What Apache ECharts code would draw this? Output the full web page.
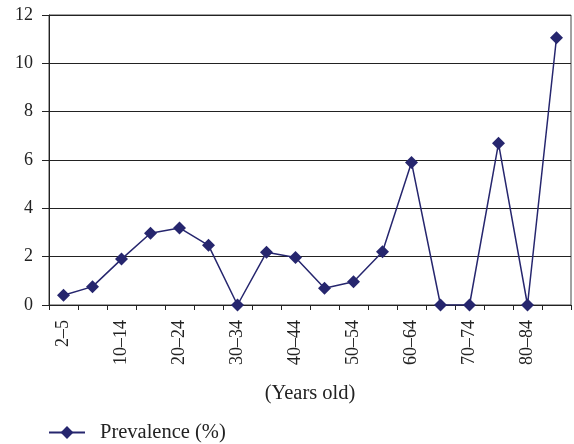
<!DOCTYPE html>
<html>
<head>
<meta charset="utf-8">
<script src="https://cdn.jsdelivr.net/npm/echarts@6/dist/echarts.min.js"></script>
<style>
html,body{margin:0;padding:0;background:#fff;}
#chart{width:574px;height:444px;}
</style>
</head>
<body>
<div id="chart"></div>
<script>
var categories = ['2–5','6–9','10–14','15–19','20–24','25–29','30–34','35–39','40–44','45–49','50–54','55–59','60–64','65–69','70–74','75–79','80–84','≥85'];
var prevalence = [0.4, 0.76, 1.9, 2.97, 3.19, 2.47, 0, 2.18, 1.97, 0.69, 0.96, 2.2, 5.9, 0, 0, 6.69, 0, 11.06];
var yTicks = {min: 0, max: 12, step: 2};
var seriesName = 'Prevalence (%)';
var xAxisTitle = '(Years old)';

var font = "'Liberation Serif', 'DejaVu Serif', serif";
var chart = echarts.init(document.getElementById('chart'), null, {renderer: 'canvas'});
chart.setOption({
  animation: false,
  backgroundColor: '#fff',
  grid: {left: 49, right: 3, top: 15, bottom: 139, containLabel: false,
         show: true, borderColor: '#444', borderWidth: 1, backgroundColor: 'transparent'},
  legend: {
    left: 43, top: 417,
    itemWidth: 36, itemHeight: 16, itemGap: 10,
    textStyle: {fontFamily: font, fontSize: 20.5, color: '#222', padding: [0, 0, 0, 10]},
    data: [seriesName]
  },
  xAxis: {
    type: 'category',
    data: categories,
    boundaryGap: true,
    name: xAxisTitle,
    nameLocation: 'middle',
    nameGap: 78,
    nameTextStyle: {fontFamily: font, fontSize: 20.5, color: '#222'},
    axisLine: {lineStyle: {color: '#222', width: 1}},
    axisTick: {show: true, interval: 0, length: 5, lineStyle: {color: '#222'}},
    axisLabel: {interval: 1, rotate: 90, margin: 15, fontFamily: font, fontSize: 18, color: '#222'},
    splitLine: {show: false}
  },
  yAxis: {
    type: 'value',
    min: yTicks.min, max: yTicks.max, interval: yTicks.step,
    axisLine: {show: true, lineStyle: {color: '#222', width: 1}},
    axisTick: {show: true, length: 7, lineStyle: {color: '#222'}},
    axisLabel: {margin: 16, fontFamily: font, fontSize: 18, color: '#222'},
    splitLine: {show: true, lineStyle: {color: '#222', width: 1}}
  },
  series: [{
    name: seriesName,
    type: 'line',
    data: prevalence,
    symbol: 'diamond',
    symbolSize: 13,
    showAllSymbol: true,
    lineStyle: {color: '#26266e', width: 1.5},
    itemStyle: {color: '#26266e'}
  }]
});
</script>
</body>
</html>
